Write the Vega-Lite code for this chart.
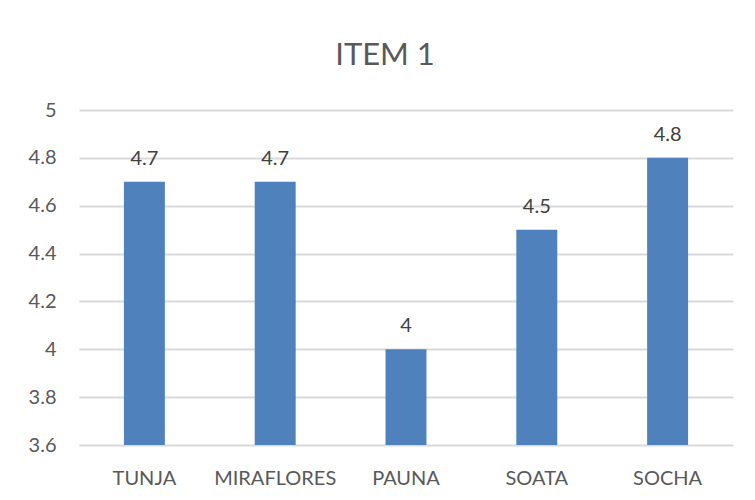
{
  "$schema": "https://vega.github.io/schema/vega-lite/v6.json",
  "autosize": {"type": "none"},
  "padding": {"left": 79, "top": 110, "right": 22, "bottom": 55},
  "width": 654,
  "height": 335,
  "background": "white",
  "title": {
    "text": "ITEM 1",
    "font": "Lato",
    "fontSize": 31,
    "fontWeight": "normal",
    "color": "#595959",
    "anchor": "middle",
    "dx": -21,
    "offset": 4,
    "baseline": "alphabetic"
  },
  "data": {
    "values": [
      {"ciudad": "TUNJA", "valor": 4.7},
      {"ciudad": "MIRAFLORES", "valor": 4.7},
      {"ciudad": "PAUNA", "valor": 4.0},
      {"ciudad": "SOATA", "valor": 4.5},
      {"ciudad": "SOCHA", "valor": 4.8}
    ]
  },
  "encoding": {
    "x": {
      "field": "ciudad",
      "type": "nominal",
      "sort": null,
      "scale": {"paddingInner": 0.687, "paddingOuter": 0.3435},
      "axis": {
        "title": null,
        "labelAngle": 0,
        "ticks": false,
        "tickSize": 0,
        "domain": false,
        "labelFont": "Lato",
        "labelFontSize": 20,
        "labelColor": "#595959",
        "labelBaseline": "alphabetic",
        "labelPadding": 39
      }
    },
    "y": {
      "field": "valor",
      "type": "quantitative",
      "scale": {"domain": [3.6, 5], "nice": false, "zero": false},
      "axis": {
        "title": null,
        "values": [3.6, 3.8, 4, 4.2, 4.4, 4.6, 4.8, 5],
        "format": "~g",
        "ticks": false,
        "tickSize": 0,
        "domain": false,
        "grid": true,
        "gridColor": "#d9d9d9",
        "gridWidth": 2,
        "labelFont": "Lato",
        "labelFontSize": 20,
        "labelColor": "#595959",
        "labelPadding": 23
      }
    }
  },
  "layer": [
    {"mark": {"type": "bar", "color": "#4f81bd", "clip": true}},
    {
      "mark": {
        "type": "text",
        "font": "Lato",
        "fontSize": 20,
        "color": "#404040",
        "baseline": "alphabetic",
        "dy": -17
      },
      "encoding": {"text": {"field": "valor", "type": "quantitative"}}
    }
  ],
  "config": {"view": {"stroke": null}}
}
